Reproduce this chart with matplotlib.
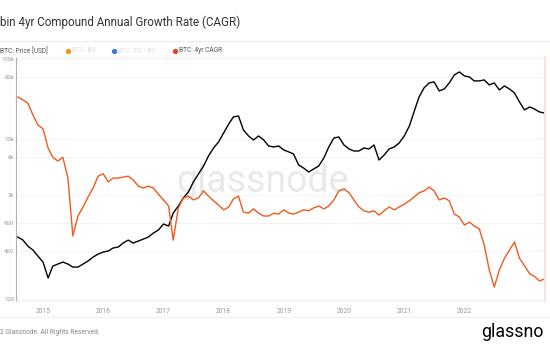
import matplotlib
matplotlib.use('Agg')
import matplotlib.pyplot as plt
import pandas as pd
from matplotlib.lines import Line2D

plt.rcParams['font.family'] = ['Roboto', 'DejaVu Sans']

# Monthly data
dates = pd.date_range('2014-08-01', periods=106, freq='MS')

price = [598, 548, 461, 411, 346, 291, 184, 259, 275, 291,
         275, 252, 252, 275, 300, 336, 366, 388, 400, 436,
         448, 503, 548, 503, 533, 564, 598, 671, 731, 869,
         820, 1193, 1459, 1837, 2183, 2911, 3664, 4613, 6152, 7745,
         9204, 11930, 15450, 18900, 19450, 13000, 10940, 9750, 10940, 9750,
         8200, 7970, 8200, 7310, 6900, 6520, 4750, 4355, 3880, 4230,
         4613, 5810, 7970, 10330, 10630, 8445, 7525, 7105, 7105, 7745,
         7525, 8445, 5480, 6330, 7525, 7970, 8945, 10940, 14590, 21830,
         33610, 43550, 50300, 51760, 39960, 42320, 50300, 63300, 69000, 61500,
         59760, 53280, 53280, 54830, 47480, 50300, 41110, 46130, 42320, 37720,
         29110, 23110, 25200, 23800, 21830, 21180]

cagr = [424, 418, 411, 386, 365, 357, 316, 297, 289, 297,
        253, 131, 173, 192, 213, 232, 257, 262, 245, 253,
        253, 255, 257, 249, 236, 232, 236, 232, 219, 207,
        194, 122, 190, 211, 215, 207, 211, 226, 215, 205,
        196, 186, 192, 209, 215, 181, 179, 188, 179, 173,
        173, 179, 177, 186, 179, 177, 181, 186, 184, 190,
        194, 188, 194, 207, 226, 230, 222, 207, 192, 184,
        181, 184, 175, 184, 192, 186, 192, 198, 205, 213,
        222, 226, 234, 226, 207, 211, 205, 177, 171, 154,
        160, 152, 146, 112, 59, 23, 59, 84, 101, 118,
        84, 68, 51, 46, 36, 40]

years = [2015, 2016, 2017, 2018, 2019, 2020, 2021, 2022]
price_ticks = [100000, 60000, 10000, 6000, 2000, 900, 400, 100]
price_tick_labels = ['100k', '60k', '10k', '6k', '2k', '900', '400', '100']

fig = plt.figure(figsize=(5.5, 3.49), dpi=100)
W, H = 550, 349
ax = fig.add_axes([16 / W, 1 - 301 / H, 529 / W, 244 / H])

ax.plot(dates, price, color='black', lw=1.0, zorder=3)
ax.set_yscale('log')
ax.set_ylim(95, 106000)
ax.set_xlim(pd.Timestamp('2014-07-21'), pd.Timestamp('2023-05-05'))

ax.set_yticks(price_ticks)
ax.set_yticklabels(price_tick_labels)
ax.minorticks_off()
ax.set_xticks([pd.Timestamp(f'{y}-01-01') for y in years])
ax.set_xticklabels([str(y) for y in years])
ax.tick_params(axis='y', length=0, pad=1.2, labelsize=4.3, labelcolor='#999999')
ax.tick_params(axis='x', length=0, pad=5, labelsize=4.8, labelcolor='#999999')
ax.grid(axis='y', color='#f2f2f2', lw=0.6)
for s in ['top', 'right']:
    ax.spines[s].set_visible(False)
ax.spines['left'].set_color('#b0b0b0')
ax.spines['left'].set_linewidth(0.8)
ax.spines['bottom'].set_color('#eeeeee')
ax.spines['bottom'].set_linewidth(0.6)

ax.text(0.465, 0.49, 'glassnode', transform=ax.transAxes, fontsize=27,
        color='#e9e9e9', ha='center', va='center', zorder=0)

ax2 = ax.twinx()
ax2.plot(dates, cagr, color='#f05a1e', lw=1.0)
ax2.set_ylim(-6.3, 508.4)
ax2.set_yticks([])
for s in ['top', 'left', 'bottom']:
    ax2.spines[s].set_visible(False)
ax2.spines['right'].set_color('#f8e4d8')
ax2.spines['right'].set_linewidth(1.5)

# plot top border and separators
fig.add_artist(Line2D([16 / W, 545 / W], [1 - 57 / H] * 2, color='#eeeeee', lw=0.6))
fig.add_artist(Line2D([0, 1], [1 - 41 / H] * 2, color='#ececec', lw=0.8))
fig.add_artist(Line2D([0, 1], [1 - 317 / H] * 2, color='#f0f0f0', lw=0.8))

# title (the reference is cropped on the left, this is its visible part)
fig.text(0.5 / W, 1 - 22 / H, 'bin 4yr Compound Annual Growth Rate (CAGR)',
         ha='left', va='center', fontsize=8.4, color='#333333')

# legend row
ly = 1 - 51 / H
fig.text(0.5 / W, ly, 'BTC: Price [USD]', ha='left', va='center', fontsize=4.8, color='#555555')
legend_items = [(68, '#f7931a', 'BTC: BV', '#dddddd'),
                (114, '#3a7bd5', 'BTC: EV / BV', '#dddddd'),
                (175, '#e8431c', 'BTC: 4yr CAGR', '#555555')]
for x, dot, label, tc in legend_items:
    fig.add_artist(Line2D([x / W], [ly], marker='o', markersize=2.8, color=dot, lw=0))
    fig.text((x + 4) / W, ly, label, ha='left', va='center', fontsize=4.8, color=tc)

# footer
fig.text(0.5 / W, 1 - 333 / H, '2 Glassnode. All Rights Reserved.',
         ha='left', va='center', fontsize=4.9, color='#888888')
fig.text(481 / W, 1 - 332 / H, 'glassno', ha='left', va='center',
         fontsize=12.8, color='black')

fig.savefig('out.png', dpi=100)
